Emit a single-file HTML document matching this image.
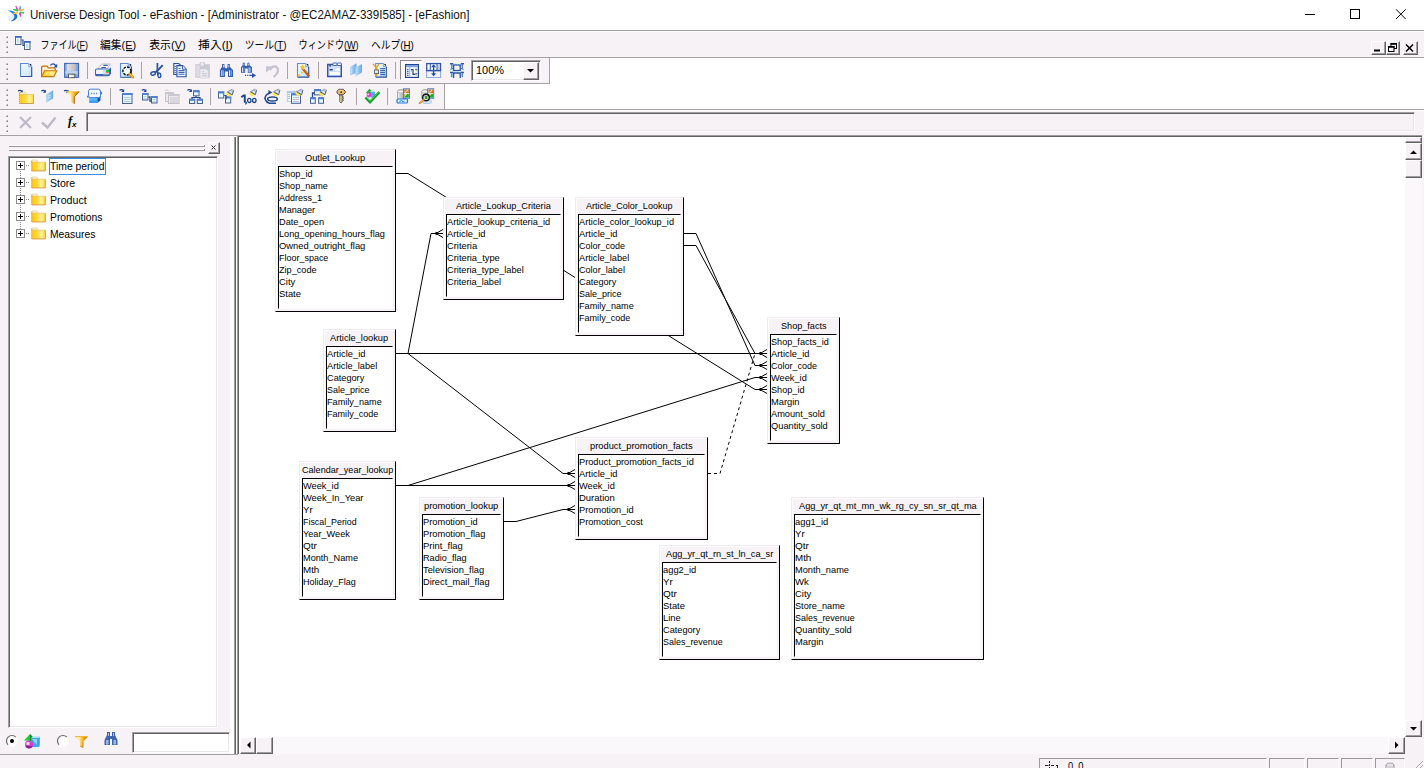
<!DOCTYPE html>
<html><head><meta charset="utf-8"><title>Universe Design Tool</title><style>
*{margin:0;padding:0;box-sizing:border-box}
html,body{width:1424px;height:768px;overflow:hidden;background:#fff}
body{position:relative;font-family:"Liberation Sans",sans-serif;color:#000}
.a{position:absolute}
.t{position:absolute;white-space:pre;transform-origin:0 0;line-height:1}
.tb{position:absolute;background:#f6f2f6;border-left:1px solid #f0ebf0;border-top:1px solid #f0ebf0;border-right:1px solid #000;border-bottom:1px solid #000;box-shadow:inset 1px 1px 0 #fff}
.ti{position:absolute;background:#fff;border-left:1px solid #000;border-top:1px solid #000;border-right:1px solid #fbf9fb;border-bottom:1px solid #fbf9fb}
.btn{position:absolute;background:#f6f2f6;border-left:1px solid #fff;border-top:1px solid #fff;border-right:1px solid #626262;border-bottom:1px solid #626262;box-shadow:inset -1px -1px 0 #a19ea1}
.sunk{position:absolute;border-left:1px solid #a09ea0;border-top:1px solid #a09ea0;border-right:1px solid #fff;border-bottom:1px solid #fff;box-shadow:inset 1px 1px 0 #626462,inset -1px -1px 0 #e9e5e9}
.dith{position:absolute;background:#faf8fa}
svg{position:absolute;overflow:visible}
</style></head><body>
<div class="a" style="left:0px;top:0px;width:1424px;height:30px;background:#fff;"></div>
<div class="t" style="left:29.50px;top:9.00px;font-size:12px;transform:scale(0.9663,1);color:#111;">Universe Design Tool - eFashion - [Administrator - @EC2AMAZ-339I585] - [eFashion]</div>
<svg style="left:0;top:0" width="1424" height="30" viewBox="0 0 1424 30"><g stroke="#000" stroke-width="1" fill="none"><path d="M1305 14.5h10"/><rect x="1350.500" y="9.500" width="9" height="9"/><path d="M1396 9.300l9.700 9.700M1405.700 9.300l-9.700 9.700"/></g></svg>
<div class="a" style="left:0px;top:30px;width:1424px;height:28px;background:#f6f2f6;"></div>
<div class="a" style="left:0px;top:30px;width:1424px;height:1px;background:#a5a2a5;"></div>
<div class="a" style="left:0px;top:31px;width:1424px;height:1px;background:#fdfcfd;"></div>
<div class="a" style="left:0px;top:57px;width:1424px;height:1px;background:#a5a2a5;"></div>
<div class="a" style="left:0px;top:58px;width:550px;height:26px;background:#f6f2f6;"></div>
<div class="a" style="left:549px;top:58px;width:1px;height:26px;background:#a5a2a5;"></div>
<div class="a" style="left:0px;top:83px;width:550px;height:1px;background:#a5a2a5;"></div>
<div class="a" style="left:0px;top:84px;width:445px;height:26px;background:#f6f2f6;"></div>
<div class="a" style="left:444px;top:84px;width:1px;height:26px;background:#a5a2a5;"></div>
<div class="a" style="left:0px;top:109px;width:1424px;height:1px;background:#a5a2a5;"></div>
<div class="a" style="left:0px;top:110px;width:1424px;height:25px;background:#f6f2f6;"></div>
<div class="a" style="left:0px;top:110px;width:1424px;height:1px;background:#fff;"></div>
<div class="a" style="left:0px;top:135px;width:1424px;height:633px;background:#f6f2f6;"></div>
<div class="a" style="left:0px;top:135px;width:238px;height:1px;background:#a5a2a5;"></div>
<svg style="left:0;top:0" width="12" height="140"><rect x="6" y="36" width="1" height="1" fill="#dcd9dc"/><rect x="7" y="36" width="1" height="1" fill="#b4b1b4"/><rect x="6" y="37" width="1" height="1" fill="#b4b1b4"/><rect x="7" y="37" width="1" height="1" fill="#868386"/><rect x="6" y="41" width="1" height="1" fill="#dcd9dc"/><rect x="7" y="41" width="1" height="1" fill="#b4b1b4"/><rect x="6" y="42" width="1" height="1" fill="#b4b1b4"/><rect x="7" y="42" width="1" height="1" fill="#868386"/><rect x="6" y="46" width="1" height="1" fill="#dcd9dc"/><rect x="7" y="46" width="1" height="1" fill="#b4b1b4"/><rect x="6" y="47" width="1" height="1" fill="#b4b1b4"/><rect x="7" y="47" width="1" height="1" fill="#868386"/><rect x="6" y="51" width="1" height="1" fill="#dcd9dc"/><rect x="7" y="51" width="1" height="1" fill="#b4b1b4"/><rect x="6" y="52" width="1" height="1" fill="#b4b1b4"/><rect x="7" y="52" width="1" height="1" fill="#868386"/></svg>
<svg style="left:0;top:0" width="12" height="140"><rect x="6" y="63" width="1" height="1" fill="#dcd9dc"/><rect x="7" y="63" width="1" height="1" fill="#b4b1b4"/><rect x="6" y="64" width="1" height="1" fill="#b4b1b4"/><rect x="7" y="64" width="1" height="1" fill="#868386"/><rect x="6" y="68" width="1" height="1" fill="#dcd9dc"/><rect x="7" y="68" width="1" height="1" fill="#b4b1b4"/><rect x="6" y="69" width="1" height="1" fill="#b4b1b4"/><rect x="7" y="69" width="1" height="1" fill="#868386"/><rect x="6" y="73" width="1" height="1" fill="#dcd9dc"/><rect x="7" y="73" width="1" height="1" fill="#b4b1b4"/><rect x="6" y="74" width="1" height="1" fill="#b4b1b4"/><rect x="7" y="74" width="1" height="1" fill="#868386"/><rect x="6" y="78" width="1" height="1" fill="#dcd9dc"/><rect x="7" y="78" width="1" height="1" fill="#b4b1b4"/><rect x="6" y="79" width="1" height="1" fill="#b4b1b4"/><rect x="7" y="79" width="1" height="1" fill="#868386"/></svg>
<svg style="left:0;top:0" width="12" height="140"><rect x="6" y="89" width="1" height="1" fill="#dcd9dc"/><rect x="7" y="89" width="1" height="1" fill="#b4b1b4"/><rect x="6" y="90" width="1" height="1" fill="#b4b1b4"/><rect x="7" y="90" width="1" height="1" fill="#868386"/><rect x="6" y="94" width="1" height="1" fill="#dcd9dc"/><rect x="7" y="94" width="1" height="1" fill="#b4b1b4"/><rect x="6" y="95" width="1" height="1" fill="#b4b1b4"/><rect x="7" y="95" width="1" height="1" fill="#868386"/><rect x="6" y="99" width="1" height="1" fill="#dcd9dc"/><rect x="7" y="99" width="1" height="1" fill="#b4b1b4"/><rect x="6" y="100" width="1" height="1" fill="#b4b1b4"/><rect x="7" y="100" width="1" height="1" fill="#868386"/><rect x="6" y="104" width="1" height="1" fill="#dcd9dc"/><rect x="7" y="104" width="1" height="1" fill="#b4b1b4"/><rect x="6" y="105" width="1" height="1" fill="#b4b1b4"/><rect x="7" y="105" width="1" height="1" fill="#868386"/></svg>
<svg style="left:0;top:0" width="12" height="140"><rect x="6" y="115" width="1" height="1" fill="#dcd9dc"/><rect x="7" y="115" width="1" height="1" fill="#b4b1b4"/><rect x="6" y="116" width="1" height="1" fill="#b4b1b4"/><rect x="7" y="116" width="1" height="1" fill="#868386"/><rect x="6" y="120" width="1" height="1" fill="#dcd9dc"/><rect x="7" y="120" width="1" height="1" fill="#b4b1b4"/><rect x="6" y="121" width="1" height="1" fill="#b4b1b4"/><rect x="7" y="121" width="1" height="1" fill="#868386"/><rect x="6" y="125" width="1" height="1" fill="#dcd9dc"/><rect x="7" y="125" width="1" height="1" fill="#b4b1b4"/><rect x="6" y="126" width="1" height="1" fill="#b4b1b4"/><rect x="7" y="126" width="1" height="1" fill="#868386"/><rect x="6" y="130" width="1" height="1" fill="#dcd9dc"/><rect x="7" y="130" width="1" height="1" fill="#b4b1b4"/><rect x="6" y="131" width="1" height="1" fill="#b4b1b4"/><rect x="7" y="131" width="1" height="1" fill="#868386"/></svg>
<svg style="left:0;top:0.4px" width="430" height="58" fill="#000" stroke="#000" stroke-width=".3" font-family="&quot;Liberation Sans&quot;, &quot;Noto Sans CJK JP&quot;, sans-serif" font-size="11"><g transform="translate(40.1,49)"><text x="0.5" y="0" stroke="none" fill="#000" textLength="47.500" lengthAdjust="spacingAndGlyphs">ファイル(F)</text><rect x="38.900" y="1" width="6.200" height="1"/></g><g transform="translate(99.5,49)"><text x="0.5" y="0" stroke="none" fill="#000" textLength="36" lengthAdjust="spacingAndGlyphs">編集(E)</text><rect x="26.800" y="1" width="6.800" height="1"/></g><g transform="translate(148.7,49)"><text x="0.5" y="0" stroke="none" fill="#000" textLength="36.400" lengthAdjust="spacingAndGlyphs">表示(V)</text><rect x="26.700" y="1" width="7.300" height="1"/></g><g transform="translate(197.6,49)"><text x="0.5" y="0" stroke="none" fill="#000" textLength="34.700" lengthAdjust="spacingAndGlyphs">挿入(I)</text><rect x="28.500" y="1" width="3.500" height="1"/></g><g transform="translate(244.2,49)"><text x="0.5" y="0" stroke="none" fill="#000" textLength="41.800" lengthAdjust="spacingAndGlyphs">ツール(T)</text><rect x="33.100" y="1" width="6.400" height="1"/></g><g transform="translate(298.1,49)"><text x="0.5" y="0" stroke="none" fill="#000" textLength="60" lengthAdjust="spacingAndGlyphs">ウィンドウ(W)</text><rect x="47.300" y="1" width="10.400" height="1"/></g><g transform="translate(370.4,49)"><text x="0.5" y="0" stroke="none" fill="#000" textLength="42.800" lengthAdjust="spacingAndGlyphs">ヘルプ(H)</text><rect x="32.900" y="1" width="7.700" height="1"/></g></svg>
<div class="btn" style="left:1371px;top:41px;width:14.5px;height:14px;"></div>
<div class="btn" style="left:1385.5px;top:41px;width:14.5px;height:14px;"></div>
<div class="btn" style="left:1403px;top:41px;width:14.5px;height:14px;"></div>
<svg style="left:0;top:3px" width="1424" height="58"><g fill="none" stroke="#000" stroke-width="1"><path d="M1374 47.500h6" stroke-width="2"/><rect x="1391" y="40.500" width="5.500" height="5" /><path d="M1390.500 41h6.500" stroke-width="1.600"/><rect x="1388.500" y="43.500" width="5.500" height="5" fill="#f6f2f6"/><path d="M1388 44h6.500" stroke-width="1.600"/><path d="M1406 41.500l7 7M1413 41.500l-7 7" stroke-width="1.500"/></g></svg>
<div class="sunk" style="left:86px;top:112px;width:1329px;height:20px;background:#f6f2f6"></div>
<div class="a" style="left:230px;top:136px;width:8px;height:618px;background:#fff;"></div>
<div class="a" style="left:234px;top:137px;width:1px;height:617px;background:#a09ea0;"></div>
<div class="a" style="left:235px;top:137px;width:1px;height:617px;background:#606260;"></div>
<div class="a" style="left:237px;top:135px;width:1185px;height:619px;background:#fff;"></div>
<div class="a" style="left:237px;top:135px;width:1185px;height:1px;background:#a09ea0;"></div>
<div class="a" style="left:237px;top:135px;width:1px;height:619px;background:#a09ea0;"></div>
<div class="a" style="left:238px;top:136px;width:1184px;height:1px;background:#606260;"></div>
<div class="a" style="left:238px;top:136px;width:1px;height:618px;background:#606260;"></div>
<div class="dith" style="left:1405px;top:137px;width:17px;height:599px;"></div>
<div class="btn" style="left:1405px;top:137px;width:17px;height:6px;"></div>
<div class="btn" style="left:1405px;top:143px;width:17px;height:17px;"></div>
<div class="btn" style="left:1405px;top:160px;width:17px;height:18px;"></div>
<div class="btn" style="left:1405px;top:720px;width:17px;height:17px;"></div>
<div class="dith" style="left:240px;top:737px;width:1165px;height:17px;"></div>
<div class="btn" style="left:240px;top:737px;width:16px;height:17px;"></div>
<div class="btn" style="left:256px;top:737px;width:17px;height:17px;"></div>
<div class="btn" style="left:1388px;top:737px;width:17px;height:17px;"></div>
<div class="a" style="left:1405px;top:737px;width:17px;height:17px;background:#f6f2f6;"></div>
<svg style="left:0;top:0" width="1424" height="768"><path d="M1410 154l3.500-3.500l3.500 3.500zM1410 727l3.500 3.500l3.500-3.500zM1395 741.500l3.500 3.500l-3.500 3.500zM250.500 741.500l-3.500 3.500l3.500 3.500z" fill="#000"/></svg>
<div class="a" style="left:0px;top:754px;width:1424px;height:14px;background:#f6f2f6;"></div>
<div class="a" style="left:1039px;top:758px;width:228px;height:12px;border-left:1px solid #9c999c;border-top:1px solid #9c999c;border-right:1px solid #fff"></div>
<div class="a" style="left:1269px;top:758px;width:36px;height:12px;border-left:1px solid #9c999c;border-top:1px solid #9c999c;border-right:1px solid #fff"></div>
<div class="a" style="left:1307px;top:758px;width:32px;height:12px;border-left:1px solid #9c999c;border-top:1px solid #9c999c;border-right:1px solid #fff"></div>
<div class="a" style="left:1341px;top:758px;width:32px;height:12px;border-left:1px solid #9c999c;border-top:1px solid #9c999c;border-right:1px solid #fff"></div>
<div class="a" style="left:1375px;top:758px;width:30px;height:12px;border-left:1px solid #9c999c;border-top:1px solid #9c999c;border-right:1px solid #fff"></div>
<svg style="left:7px;top:5px" width="18" height="17" viewBox="0 0 18 17"><ellipse cx="5.500" cy="13" rx="5" ry="3.500" fill="#e6f2fb"/><ellipse cx="12" cy="13.500" rx="3.500" ry="2.800" fill="#eef6fc"/><path d="M.8 5.600q3.500-.5 6.200 1.200 3.500 2.200 3.300 5.200-.5 3-5.800 3.800 3-2 2.800-4.400Q7 8.500 .8 5.600z" fill="#2a7fe0"/><path d="M4.500 15.800q4-.8 4.800-3.500.3-1.800-.8-3.300" fill="none" stroke="#1f5fc0" stroke-width="1"/><g transform="translate(11.800,6.500)"><path d="M-.6-1.200L-2.800-5.200-1.800-1.400z" fill="#e23ad0" stroke="#e23ad0" stroke-width="1"/><path d="M.5-1.500L1.600-5.200 1.500-1.200z" fill="#5b8fe0" stroke="#5b8fe0" stroke-width=".9"/><path d="M-1.500-.6L-5.500-2-1.500-1.500z" fill="#25d43a" stroke="#25d43a" stroke-width="1.100"/><path d="M1.500-.8L5.200-2.300 1.500-1.600z" fill="#ffb51f" stroke="#ffb51f" stroke-width="1.100"/><path d="M-1.500.8L-5.500 2.300-1.500 1.500z" fill="#ffc21f" stroke="#ffc21f" stroke-width="1.100"/><path d="M1.500.6L5.200 1.600 1.500 1.400z" fill="#25d43a" stroke="#25d43a" stroke-width="1"/><path d="M.5 1.500L1.800 5 1.400 1.300z" fill="#e23ad0" stroke="#e23ad0" stroke-width="1"/></g></svg>
<svg style="left:14px;top:35px" width="18" height="16" viewBox="0 0 18 16"><rect x="1.500" y="1.500" width="5.500" height="8" fill="#e8fafd" stroke="#44557a" stroke-width=".9"/><rect x="1" y="1" width="6.500" height="1.800" fill="#3f66c0"/><path d="M3 5h2.500M3 7h2.500" stroke="#a9bcc9" stroke-width=".8"/><rect x="10.500" y="6.500" width="5.500" height="8" fill="#e8fafd" stroke="#44557a" stroke-width=".9"/><rect x="10" y="6" width="6.500" height="1.800" fill="#3f66c0"/><path d="M12 10h2.500M12 12h2.500" stroke="#a9bcc9" stroke-width=".8"/><path d="M7.500 5h1.500v5.500h1.500" fill="none" stroke="#27477f" stroke-width="1.100"/></svg>
<svg style="left:0;top:754px" width="1424" height="14"><g stroke="#222" stroke-width="1" fill="none"><path d="M1049.500 7v7" stroke-dasharray="2 1"/><path d="M1045 11.500h3.500M1051 11.500h3M1056 11.500h2M1057.500 12v2"/></g><ellipse cx="1390" cy="11" rx="4" ry="2" fill="#e4e2e6" stroke="#9a989c" stroke-width=".8"/><path d="M1386 11v3M1394 11v3" stroke="#9a989c"/><rect x="1387" y="12" width="6" height="2" fill="#d4d2d8"/><path d="M1423 7l-7 7M1423 11l-3 3" stroke="#a9a6a9" stroke-width="1"/></svg>
<div class="t" style="left:1068.00px;top:760.50px;font-size:11px;transform:scale(0.8443,1);">0, 0</div>
<svg style="left:0;top:0" width="0" height="0"><defs><linearGradient id="gPage" x1="0" y1="0" x2="1" y2="1"><stop offset="0" stop-color="#f6fcff"/><stop offset=".5" stop-color="#dcf0fc"/><stop offset="1" stop-color="#bfe0f8"/></linearGradient><linearGradient id="gFold" x1="0" y1="0" x2="1" y2="0"><stop offset="0" stop-color="#ffc90f"/><stop offset=".4" stop-color="#ffd835"/><stop offset=".7" stop-color="#fff0a0"/><stop offset="1" stop-color="#ffd93a"/></linearGradient><linearGradient id="gFun" x1="0" x2="1"><stop offset="0" stop-color="#ffd84a"/><stop offset=".3" stop-color="#fff1b0"/><stop offset=".6" stop-color="#f9b51c"/><stop offset="1" stop-color="#b5650a"/></linearGradient><linearGradient id="gBlue" x1="0" y1="0" x2="0" y2="1"><stop offset="0" stop-color="#b9d3f3"/><stop offset="1" stop-color="#7ea6e0"/></linearGradient><linearGradient id="gPara" x1="0" x2="1"><stop offset="0" stop-color="#b8dcf8"/><stop offset="1" stop-color="#69a9e6"/></linearGradient><linearGradient id="gGrey" x1="0" x2="1"><stop offset="0" stop-color="#f4f4f4"/><stop offset="1" stop-color="#9c9c9c"/></linearGradient><linearGradient id="gKey" x1="0" x2="1"><stop offset="0" stop-color="#f7d56a"/><stop offset="1" stop-color="#c98a1a"/></linearGradient></defs></svg>
<svg style="left:18px;top:62px" width="16" height="16" viewBox="0 0 16 16"><path d="M2 1H10.8L14.2 4.4V15H2z" fill="url(#gPage)"/><path d="M13.7 4.4V14.5H2.5" fill="none" stroke="#2c4f9e" stroke-width="1.1"/><path d="M2.5 14.5V1.5H10.8" fill="none" stroke="#5f8ad6" stroke-width="1.1"/><path d="M10.8 1.3v3.4h3.1" fill="#f4faff" stroke="#5f8ad6" stroke-width=".8"/><path d="M11.9 2.1l1.4 1.4" stroke="#0a0a14" stroke-width="1.100"/></svg>
<svg style="left:41px;top:62px" width="16" height="16" viewBox="0 0 16 16"><path d="M.6 14.300V5.500q0-1.300 1.300-1.300h3.600q.9 0 1.400 1l.4.700h5.700q1.200 0 1.200 1.200v1.600" fill="#fdf0d0" stroke="#c46d0c" stroke-width="1.200"/><path d="M.7 14.600L3.600 8.800h12.200L12.800 14.600z" fill="url(#gFold)" stroke="#c8780f" stroke-width="1.100"/><path d="M4.500 13.500l2.600-4.200" stroke="#fff6c8" stroke-width="1"/><path d="M9.300 3.400q3-3.200 5.600.4" fill="none" stroke="#1f4fa8" stroke-width="1.300"/><path d="M16.200 1.800v3.600h-3.600z" fill="#1f4fa8"/></svg>
<svg style="left:64px;top:62px" width="16" height="16" viewBox="0 0 16 16"><rect x=".7" y="1.500" width="13.800" height="13.800" fill="#9dbae6" stroke="#3f66b8" stroke-width="1.200"/><path d="M12 2v13h2V2z" fill="#86a6dc"/><rect x="3.200" y="1.900" width="8.300" height="6.800" fill="url(#gGrey)"/><rect x="3.200" y="1.900" width="8.300" height="6.800" fill="#d4d4da" fill-opacity=".6"/><rect x="1.500" y="9.200" width="12" height="2.600" fill="#c2d7f2"/><rect x="4.400" y="12.200" width="6.500" height="3.500" fill="#e4e4e8" stroke="#55565c" stroke-width="1"/><rect x="5" y="12.800" width="2.400" height="2.500" fill="#fff"/></svg>
<div class="a" style="left:87px;top:62px;width:1px;height:17px;background:#a7a4a7;"></div>
<svg style="left:95px;top:62px" width="16" height="16" viewBox="0 0 16 16"><path d="M3 6.700L6.700 2h9L12 6.700z" fill="#fbfcfe" stroke="#a9adb8" stroke-width=".8"/><path d="M8.300 3.400h4.500M6.400 5.500h4.500" stroke="#3f66b8" stroke-width="1.200"/><path d="M14 7l2-1.500v6.300l-2 2.200z" fill="#2f5cb8"/><rect x=".5" y="7" width="13.600" height="6.800" rx="1.200" fill="#f1f5fb" stroke="#3f66b8" stroke-width="1.100"/><path d="M1 12.800h13" stroke="#2c4f9e" stroke-width="1.400"/><path d="M8 7.600h6v5h-6z" fill="#c9daf3" fill-opacity=".8"/><rect x="10.900" y="8" width="3.100" height="2" fill="#1fc03f"/><rect x="11.200" y="10" width="2.200" height="1.100" fill="#d9741c"/></svg>
<svg style="left:118px;top:62px" width="16" height="16" viewBox="0 0 16 16"><path d="M2 1H10.6L14 4.4V15.800H2z" fill="url(#gPage)"/><path d="M13.5 4.4V15.300H2.500" fill="none" stroke="#2c4f9e" stroke-width="1.1"/><path d="M2.500 15.300V1.500H10.6" fill="none" stroke="#5f8ad6" stroke-width="1.1"/><path d="M10.6 1.3v3.4h3.100" fill="#f4faff" stroke="#5f8ad6" stroke-width=".8"/><path d="M11.700 2.100l1.400 1.400" stroke="#0a0a14" stroke-width="1.100"/><path d="M9 2h3v13H9z" fill="#8fb8ec" fill-opacity=".5"/><circle cx="8.900" cy="9" r="4" fill="#f4fbff" stroke="#0c0c10" stroke-width="1.400" stroke-dasharray="2.600 1.100"/><path d="M11.800 12.300l3 2.700" stroke="#e39a14" stroke-width="3" stroke-linecap="round"/><path d="M12.300 12.300l2.600 2.400" stroke="#ffd24a" stroke-width="1" stroke-linecap="round"/></svg>
<div class="a" style="left:141px;top:62px;width:1px;height:17px;background:#a7a4a7;"></div>
<svg style="left:148px;top:62px" width="16" height="16" viewBox="0 0 16 16"><g fill="none" stroke="#2a55a8"><path d="M9.400 1v9.500q.2 1.500 1.300 2.300" stroke-width="1.700"/><path d="M14.700 3.100Q11 7.500 6.800 10.800" stroke-width="1.800"/><ellipse cx="5.100" cy="11.500" rx="2.300" ry="1.600" transform="rotate(-22 5.100 11.500)" stroke-width="1.400"/><ellipse cx="11.300" cy="13.300" rx="1.500" ry="2.300" transform="rotate(-8 11.300 13.300)" stroke-width="1.400"/></g></svg>
<svg style="left:172px;top:62px" width="16" height="16" viewBox="0 0 16 16"><path d="M1.800 1.500h5l2 2v9h-7z" fill="#e4f3fd" stroke="#2a4f9f" stroke-width="1.100"/><path d="M2.600 4.500h1.200M2.600 6.500h1.200M2.600 8.500h1.200M2.600 10.500h1.200" stroke="#2a4f9f" stroke-width=".9"/><path d="M4.900 3.600h5.800l3.400 3.400v7.700H4.900z" fill="#eaf6fe" stroke="#2a4f9f" stroke-width="1.100"/><path d="M10.500 3.600v3.600h3.600" fill="#fff" stroke="#2a4f9f" stroke-width=".9"/><path d="M6.500 6.500h2M6.500 8.500h6M6.500 10.400h6M6.500 12.300h6" stroke="#3f66b8" stroke-width="1.100"/></svg>
<svg style="left:195px;top:62px" width="16" height="16" viewBox="0 0 16 16"><rect x=".3" y="2.200" width="14.600" height="13.600" fill="#cbc9d3"/><rect x="1.300" y="3.500" width="3.500" height="11.300" fill="#dedde4"/><path d="M5 .8h4.500v3.800H5z" fill="#e4e3e9" stroke="#c3c1cc" stroke-width=".8"/><rect x="6.300" y="1.200" width="2" height="1.600" fill="#f5f1f5"/><path d="M5 7h6.300l2 2v7H5z" fill="#ececf0" stroke="#cbc9d3" stroke-width=".6"/><path d="M7 9.800h2M7 11.800h5M7 13.800h5" stroke="#c2c0ca" stroke-width="1.100"/></svg>
<svg style="left:218px;top:62px" width="16" height="16" viewBox="0 0 16 16"><path d="M4 2.300q1.300-.8 2.500 0V5l.7 1.300h1.600L9.500 5V2.300q1.300-.8 2.500 0V5l3 3V15h-5V9.500H6.900V15h-5V8L4 5z" fill="#335fb3"/><path d="M3.200 8.200h1.200V14H3.200zM11 8.200h1.200V14H11zM5 3h.8v2.500H5zM10.400 3h.8v2.500h-.8z" fill="#dfe9fa"/><path d="M5 8.200h1V14H5zM12.800 8.200h1V14h-1z" fill="#86a5de"/></svg>
<svg style="left:240px;top:62px" width="16" height="16" viewBox="0 0 16 16"><g transform="translate(-.6,-.9) scale(.84,.78)"><path d="M4 2.300q1.300-.8 2.500 0V5l.7 1.300h1.600L9.500 5V2.300q1.300-.8 2.500 0V5l3 3V15h-5V9.500H6.900V15h-5V8L4 5z" fill="#335fb3"/><path d="M3.200 8.200h1.200V14H3.200zM11 8.200h1.200V14H11zM5 3h.8v2.500H5zM10.400 3h.8v2.500h-.8z" fill="#dfe9fa"/><path d="M5 8.200h1V14H5zM12.800 8.200h1V14h-1z" fill="#86a5de"/></g><path d="M5 13.400h1.200M7.200 13.400h1.200M9.400 13.400h4" stroke="#2a55a8" stroke-width="1.300"/><path d="M12 10.900l4.200 2.500-4.200 2.500z" fill="#2a55a8"/></svg>
<svg style="left:264px;top:62px" width="16" height="16" viewBox="0 0 16 16"><path d="M6 8Q8.500 3.600 11.800 4.600 14.800 6.200 13.600 10.200 12.600 13 9.600 15" fill="none" stroke="#c6c4d0" stroke-width="2.300"/><path d="M2 4.300h6.700L2 10.800z" fill="#c6c4d0"/></svg>
<div class="a" style="left:287px;top:62px;width:1px;height:17px;background:#a7a4a7;"></div>
<svg style="left:295px;top:62px" width="16" height="16" viewBox="0 0 16 16"><path d="M2 1H10.8L14.2 4.4V15.600H2z" fill="url(#gPage)"/><path d="M13.7 4.4V15.100H2.5" fill="none" stroke="#2c4f9e" stroke-width="1.1"/><path d="M2.5 15.100V1.5H10.8" fill="none" stroke="#5f8ad6" stroke-width="1.1"/><path d="M10.8 1.3v3.4h3.1" fill="#f4faff" stroke="#5f8ad6" stroke-width=".8"/><path d="M11.9 2.1l1.4 1.4" stroke="#0a0a14" stroke-width="1.100"/><path d="M8.200 7.200l5.300 6.300" stroke="#b9560f" stroke-width="2.300" stroke-linecap="round"/><path d="M8.300 7l5 6" stroke="#f0a04a" stroke-width=".8" stroke-dasharray="1 1"/><path d="M7.500 2.200l.9 2 2 .4-1.500 1.400.4 2.100-1.800-1.100-1.800 1.100.4-2.100-1.500-1.400 2-.4zM4 11.500l.6 1.200 1.200.6-1.200.6-.6 1.200-.6-1.200-1.200-.6 1.200-.6zM7 9l.5 1 1 .5-1 .5-.5 1-.5-1-1-.5 1-.5z" fill="#f8c414"/></svg>
<div class="a" style="left:318px;top:62px;width:1px;height:17px;background:#a7a4a7;"></div>
<svg style="left:326px;top:62px" width="16" height="16" viewBox="0 0 16 16"><path d="M1.700 2.500h13.600v12H1.700z" fill="#cfe0f5" stroke="#2f55a8" stroke-width="1.400"/><rect x="7" y="1" width="4" height="2.500" rx=".6" fill="#fff" stroke="#2f55a8" stroke-width=".9"/><rect x="11.300" y="1" width="4" height="2.500" rx=".6" fill="#fff" stroke="#2f55a8" stroke-width=".9"/><rect x="3.300" y="3.200" width="1.800" height="1.300" fill="#27477f"/><rect x="3.500" y="7" width="3.200" height="1.400" fill="#27477f"/><rect x="9.500" y="6.500" width="4.500" height="2" fill="#fff"/><rect x="3.800" y="10" width="9.800" height="3" fill="#fff"/></svg>
<svg style="left:349px;top:62px" width="16" height="16" viewBox="0 0 16 16"><path d="M1 5L7.500 1.200V11L1 13.500z" fill="url(#gPara)"/><path d="M6.500 5.500L13 1.900v8.600L6.500 14.500z" fill="url(#gPara)"/><path d="M2 6.500l1.200-.5M2 8.500l1.200-.5M2 10.500l1.200-.5M7.500 7l1.200-.5M7.500 9l1.200-.5M7.500 11l1.200-.5" stroke="#e4f2fd" stroke-width=".7"/></svg>
<svg style="left:372px;top:62px" width="16" height="16" viewBox="0 0 16 16"><path d="M3.200 1H11.400L14.800 4.4V15.600H3.200z" fill="url(#gPage)"/><path d="M14.300 4.4V15.100H3.700" fill="none" stroke="#2c4f9e" stroke-width="1.1"/><path d="M3.700 15.100V1.5H11.400" fill="none" stroke="#5f8ad6" stroke-width="1.1"/><path d="M11.400 1.3v3.4h3.100" fill="#f4faff" stroke="#5f8ad6" stroke-width=".8"/><path d="M12.500 2.100l1.400 1.400" stroke="#0a0a14" stroke-width="1.100"/><path d="M8.200 6.600h4.800M8.200 8.600h4.800M8.200 10.600h4.800M8.200 12.600h4.800" stroke="#3f66b8" stroke-width="1.100"/><path d="M1 1.800L3.800 5.300V14M7 1.800L4.800 5.300V14" fill="none" stroke="#e8a21c" stroke-width="1.300"/><rect x="2.400" y="8" width="4.200" height="3.600" fill="#d9dae0" stroke="#60626c" stroke-width=".9"/><rect x="3.300" y="8.800" width="1.500" height="1.500" fill="#fff"/></svg>
<div class="a" style="left:395px;top:62px;width:1px;height:17px;background:#a7a4a7;"></div>
<div class="a" style="left:400px;top:60px;width:22px;height:20px;background:#fbf9fb;border-left:1px solid #8d8a8d;border-top:1px solid #8d8a8d;border-right:1px solid #fff;border-bottom:1px solid #fff"></div>
<svg style="left:404px;top:62px" width="16" height="16" viewBox="0 0 16 16"><rect x="1.600" y="2.600" width="12.800" height="12.800" fill="#fff" stroke="#1f478f" stroke-width="1.200"/><rect x="2.200" y="3.200" width="11.600" height="2" fill="#4f86d6"/><path d="M2.500 4.200h11" stroke="#e4f0fd" stroke-width=".8" stroke-dasharray="1 1"/><rect x="2.200" y="5.200" width="3.300" height="9.600" fill="#dbe8f8"/><path d="M5.800 5.200v9.600" stroke="#6a8fcf" stroke-width=".7"/><path d="M3 7.600h1.400M3 9.600h1.400M3 11.600h1.400M3 13.600h1.400" stroke="#2a55a8" stroke-width="1"/><path d="M7 7.600h2v4.700h2.600" fill="none" stroke="#1f3f7f" stroke-width="1.200"/><rect x="6.800" y="8.200" width="1.500" height="1.500" fill="#b5b9c4"/><rect x="11.300" y="7" width="2" height="2.300" fill="#b5b9c4"/><rect x="11.300" y="11.600" width="2" height="2" fill="#b5b9c4"/><path d="M11.200 7.200h2.200M11.200 11.500h2.200" stroke="#2a55a8" stroke-width=".8"/></svg>
<svg style="left:426px;top:62px" width="16" height="16" viewBox="0 0 16 16"><rect x=".6" y="8.500" width="14" height="7" fill="#f5f1f5" stroke="#8fa9dc" stroke-width="1"/><rect x=".7" y="1.600" width="13.800" height="7" fill="#fff" stroke="#2a55a8" stroke-width="1.300"/><rect x="11.400" y="2.200" width="2.600" height="5.800" fill="#c9c9cf"/><path d="M4.300 2v6.500M11 2v6.500" stroke="#2a55a8" stroke-width="1"/><path d="M7.600 3v10.500" stroke="#27509f" stroke-width="1.400"/><path d="M5 5.200L7.600 2.200l2.600 3zM5 11.300l2.600 3 2.600-3z" fill="#27509f"/><path d="M.6 8.500h14" stroke="#2a55a8" stroke-width="1.200"/></svg>
<svg style="left:449px;top:62px" width="16" height="16" viewBox="0 0 16 16"><rect x="1" y="1" width="14" height="15" fill="#def6fb"/><rect x="4.600" y="3" width="6.600" height="5.500" fill="#f5f1f5" stroke="#2a55a8" stroke-width="1.300"/><path d="M4.600 16v-5h6.600v5" fill="#f5f1f5" stroke="#2a55a8" stroke-width="1.300"/><g stroke="#2a55a8" fill="none"><path d="M1 1.800h3.200M11.800 1.800H15M1 10.500h3.200M11.800 10.500H15" stroke-width="1.600"/><path d="M2.600 2.500q.8 1.800 0 3.500M13.400 2.500q-.8 1.800 0 3.500M2.600 11.500q.8 1.800 0 3.500M13.400 11.500q-.8 1.800 0 3.500" stroke-width="1.100"/><path d="M1.500 7.300l2.500-.8M14.500 7.300l-2.500-.8" stroke-width="1"/></g></svg>
<div class="sunk" style="left:471px;top:60px;width:70px;height:21px;background:#fff"></div>
<div class="btn" style="left:523px;top:62px;width:16px;height:18px;"></div>
<svg style="left:523px;top:62px" width="16" height="18"><path d="M4 7h7L7.500 10.600z" fill="#000"/></svg>
<div class="t" style="left:475.50px;top:64.50px;font-size:11px;transform:scale(0.9950,1);">100%</div>
<svg style="left:18px;top:88px" width="16" height="16" viewBox="0 0 16 16"><path d="M0 3q2.200-1.400 4 .4" fill="none" stroke="#1f3f8f" stroke-width="1.1"/><path d="M4.600 1.800v3h-3z" fill="#1f3f8f"/><path d="M1.300 6.500V4.400h6l1 2.100z" fill="#fbf3c0" stroke="#d9c27a" stroke-width=".6"/><rect x="1.400" y="6.500" width="14.200" height="9" fill="url(#gFold)"/><path d="M15.500 6.500v9H1.300" fill="none" stroke="#c49a52" stroke-width=".9"/><path d="M1.400 5v10.500" stroke="#e8901c" stroke-width=".9" stroke-dasharray="1.200 .8"/><path d="M1.400 6.500h14" stroke="#e8c060" stroke-width=".7"/></svg>
<svg style="left:40px;top:88px" width="16" height="16" viewBox="0 0 16 16"><path d="M1.300 3q2.200-1.400 4 .4" fill="none" stroke="#1f3f8f" stroke-width="1.1"/><path d="M5.900 1.800v3h-3z" fill="#1f3f8f"/><path d="M6 6.500L13.100 2.200v8.300L6 14.700z" fill="url(#gPara)"/><path d="M8 8l3-1M8 10l3-1" stroke="#d9ecfb" stroke-width=".7"/></svg>
<svg style="left:63px;top:88px" width="16" height="16" viewBox="0 0 16 16"><path d="M1 3q2.200-1.400 4 .4" fill="none" stroke="#1f3f8f" stroke-width="1.1"/><path d="M5.600 1.800v3h-3z" fill="#1f3f8f"/><path d="M3.400 3.600h12.800l-4.900 5.200v7l-3.300-1.600V8.800z" fill="url(#gFun)"/><path d="M3.400 3.800h12.800" stroke="#f7c23a" stroke-width=".8"/><path d="M16.200 3.600l-4.900 5.200v7" fill="none" stroke="#a85a08" stroke-width=".9"/></svg>
<svg style="left:86px;top:88px" width="16" height="16" viewBox="0 0 16 16"><path d="M3.300 9.300h8v5.600h-8z" fill="#5fb8f5"/><path d="M3.300 9.300l3-2h8.200l-3.200 2z" fill="#a9dcfb"/><path d="M11.300 9.300l3.200-2.300v5.500l-3.200 2.400z" fill="#1f4fb0"/><path d="M3.300 12.500h8v2.400h-8z" fill="#3f9cec"/><path d="M2.500 3.200q0-2 2-2h8q2 0 2 2v4.400q0 2-2 2h-8q-2 0-2-2z" fill="#f7fbff" stroke="#3f7fdf" stroke-width="1"/><path d="M5 5.500h1.300M7.500 5.500h1.300M10 5.500h1.300" stroke="#5b96e6" stroke-width="1.600"/><path d="M2 7.500q-1.500 1.500.8 2.800M14.800 3.500q1.800 1.200.2 3" fill="none" stroke="#2f6fd0" stroke-width="1"/></svg>
<div class="a" style="left:110px;top:88px;width:1px;height:17px;background:#a7a4a7;"></div>
<svg style="left:118px;top:88px" width="16" height="16" viewBox="0 0 16 16"><path d="M1.500 2.200q2.200-1.400 4 .4" fill="none" stroke="#1f3f8f" stroke-width="1.1"/><path d="M6.100 1v3h-3z" fill="#1f3f8f"/><rect x="4.500" y="5.500" width="9.500" height="10" fill="#e4f9fd" stroke="#4a5f8f" stroke-width="1"/><rect x="4" y="5" width="10.500" height="2" fill="#4f7fd6"/><path d="M6 9.500h6.500M6 11.500h6.500M6 13.500h6.500" stroke="#b7c9d6"/></svg>
<svg style="left:141px;top:88px" width="16" height="16" viewBox="0 0 16 16"><path d="M0.800 2.200q2.200-1.400 4 .4" fill="none" stroke="#1f3f8f" stroke-width="1.1"/><path d="M5.400 1v3h-3z" fill="#1f3f8f"/><rect x="1.500" y="5.500" width="5.500" height="6.500" fill="#e4f9fd" stroke="#4a5f8f" stroke-width="1"/><rect x="1" y="5" width="6.500" height="2" fill="#4f7fd6"/><rect x="10.500" y="8.500" width="5.500" height="6.500" fill="#e4f9fd" stroke="#4a5f8f" stroke-width="1"/><rect x="10" y="8" width="6.500" height="2" fill="#4f7fd6"/><path d="M7.500 9h1.500v4h1.500" fill="none" stroke="#27477f" stroke-width="1.300"/><path d="M2.500 8.500h3M2.500 10.500h3M11.500 11.500h3M11.500 13.500h3" stroke="#a9c3d3" stroke-width=".8"/></svg>
<svg style="left:164px;top:88px" width="16" height="16" viewBox="0 0 16 16"><path d="M1 2.500q2-1.200 3.400.2" fill="none" stroke="#cfcdd1"/><rect x="1.500" y="4.500" width="8" height="9" fill="#eceaee" stroke="#c2c0c8" stroke-width="1"/><rect x="1" y="4" width="9" height="2" fill="#c9c7cf"/><rect x="4.500" y="6.500" width="10.500" height="9" fill="#eceaee" stroke="#c2c0c8" stroke-width="1"/><rect x="4" y="6" width="11.500" height="2" fill="#c9c7cf"/><path d="M6 10h8M6 12h8M6 14h8" stroke="#c7c5c9"/></svg>
<svg style="left:187px;top:88px" width="16" height="16" viewBox="0 0 16 16"><path d="M0.300 2.200q2.200-1.400 4 .4" fill="none" stroke="#1f3f8f" stroke-width="1.1"/><path d="M4.900 1v3h-3z" fill="#1f3f8f"/><path d="M9 8v1.500M5 11V9.500h8V11" fill="none" stroke="#27477f" stroke-width="1.200"/><rect x="6.500" y="2.800" width="5.500" height="5" fill="#e4f9fd" stroke="#4a5f8f" stroke-width="1"/><rect x="6" y="2.300" width="6.500" height="2" fill="#4f7fd6"/><rect x="2.500" y="11.300" width="5.200" height="4.200" fill="#e4f9fd" stroke="#4a5f8f" stroke-width="1"/><rect x="2" y="10.800" width="6.200" height="2" fill="#4f7fd6"/><rect x="10.300" y="11.300" width="5.200" height="4.200" fill="#e4f9fd" stroke="#4a5f8f" stroke-width="1"/><rect x="9.800" y="10.800" width="6.200" height="2" fill="#4f7fd6"/></svg>
<div class="a" style="left:210px;top:88px;width:1px;height:17px;background:#a7a4a7;"></div>
<svg style="left:218px;top:88px" width="16" height="16" viewBox="0 0 16 16"><rect x="0.500" y="4" width="5.200" height="6" fill="#e4f9fd" stroke="#4a5f8f" stroke-width="1"/><rect x="0" y="3.500" width="6.200" height="2" fill="#4f7fd6"/><rect x="7.500" y="9" width="5.200" height="6" fill="#e4f9fd" stroke="#4a5f8f" stroke-width="1"/><rect x="7" y="8.500" width="6.200" height="2" fill="#4f7fd6"/><path d="M6.200 7.500h1.800v4" fill="none" stroke="#27477f" stroke-width="1.200"/><g transform="translate(7.5,0.5)"><path d="M1.800 3.400L.4 5.500 4 8.200 6.600 6.400z" fill="#ffe03a"/><path d="M1.200 4.600l4 2.800" stroke="#fff8c0" stroke-width=".7" stroke-dasharray="1 1"/><path d="M7.600 .8q.7.400.5 1.100L6.800 6.400 1.800 3.400 6.600.7q.5-.2 1 .1z" fill="#b9c6d8"/><path d="M4.300 2.800l2.800 2.400" stroke="#eef4fa" stroke-width="1.100"/><path d="M1.800 3.400l5 3L8.100 1.900" fill="none" stroke="#3f4f72" stroke-width=".9"/><path d="M1.800 3.400L6.600.7" fill="none" stroke="#7f8ca8" stroke-width=".8"/></g></svg>
<svg style="left:241px;top:88px" width="16" height="16" viewBox="0 0 16 16"><path d="M.3 9.300L2.600 7.500h1.200v7.300" fill="none" stroke="#1f478f" stroke-width="1.900"/><path d="M5.300 13.800v1.200l-.9 1.300" fill="none" stroke="#1f478f" stroke-width="1.300"/><ellipse cx="8.300" cy="12.400" rx="1.700" ry="2.100" fill="none" stroke="#1f478f" stroke-width="1.300"/><ellipse cx="13.300" cy="12.400" rx="1.700" ry="2.100" fill="none" stroke="#1f478f" stroke-width="1.300"/><g transform="translate(7.5,0.3)"><path d="M1.800 3.400L.4 5.500 4 8.200 6.600 6.400z" fill="#ffe03a"/><path d="M1.200 4.600l4 2.800" stroke="#fff8c0" stroke-width=".7" stroke-dasharray="1 1"/><path d="M7.600 .8q.7.400.5 1.100L6.800 6.400 1.800 3.400 6.600.7q.5-.2 1 .1z" fill="#b9c6d8"/><path d="M4.300 2.800l2.800 2.400" stroke="#eef4fa" stroke-width="1.100"/><path d="M1.800 3.400l5 3L8.100 1.900" fill="none" stroke="#3f4f72" stroke-width=".9"/><path d="M1.800 3.400L6.600.7" fill="none" stroke="#7f8ca8" stroke-width=".8"/></g></svg>
<svg style="left:264px;top:88px" width="16" height="16" viewBox="0 0 16 16"><g fill="none" stroke="#1f478f" stroke-width="1.500"><ellipse cx="8.500" cy="11" rx="4.800" ry="2"/><path d="M5.500 4.800Q0 7.500 1.300 11.500q1 3 4.200 3.800h6.500"/></g><path d="M4.500 2l3.800 2.500-4 2.300z" fill="#1f478f"/><g transform="translate(7.800,0.3)"><path d="M1.800 3.400L.4 5.500 4 8.200 6.600 6.400z" fill="#ffe03a"/><path d="M1.200 4.600l4 2.800" stroke="#fff8c0" stroke-width=".7" stroke-dasharray="1 1"/><path d="M7.600 .8q.7.400.5 1.100L6.800 6.400 1.800 3.400 6.600.7q.5-.2 1 .1z" fill="#b9c6d8"/><path d="M4.300 2.800l2.800 2.400" stroke="#eef4fa" stroke-width="1.100"/><path d="M1.800 3.400l5 3L8.100 1.900" fill="none" stroke="#3f4f72" stroke-width=".9"/><path d="M1.800 3.400L6.600.7" fill="none" stroke="#7f8ca8" stroke-width=".8"/></g></svg>
<svg style="left:287px;top:88px" width="16" height="16" viewBox="0 0 16 16"><rect x=".3" y="3.300" width="9" height="10.300" fill="#f4f9fe" stroke="#a9c3ea" stroke-width=".8"/><rect x=".3" y="3.300" width="9" height="1.800" fill="#a9c3ea"/><path d="M1 6.500h2M1 8.500h2M1 10.500h2" stroke="#8fb0e0" stroke-width=".8"/><rect x="4.500" y="5.900" width="9" height="9.400" fill="#e4f9fd" stroke="#4a5f8f" stroke-width="1"/><rect x="4" y="5.400" width="10" height="2" fill="#4f7fd6"/><path d="M6 9.500h6M6 11.500h6M6 13.500h6" stroke="#c9b7c9" stroke-width=".9"/><g transform="translate(7.800,0.3)"><path d="M1.800 3.400L.4 5.500 4 8.200 6.600 6.400z" fill="#ffe03a"/><path d="M1.200 4.600l4 2.800" stroke="#fff8c0" stroke-width=".7" stroke-dasharray="1 1"/><path d="M7.600 .8q.7.400.5 1.100L6.800 6.400 1.800 3.400 6.600.7q.5-.2 1 .1z" fill="#b9c6d8"/><path d="M4.300 2.800l2.800 2.400" stroke="#eef4fa" stroke-width="1.100"/><path d="M1.800 3.400l5 3L8.100 1.900" fill="none" stroke="#3f4f72" stroke-width=".9"/><path d="M1.800 3.400L6.600.7" fill="none" stroke="#7f8ca8" stroke-width=".8"/></g></svg>
<svg style="left:310px;top:88px" width="16" height="16" viewBox="0 0 16 16"><path d="M4.500 5h-2v4.500" fill="none" stroke="#1f478f" stroke-width="1.300"/><rect x="4.500" y="1.700" width="6" height="5.200" fill="#e4f9fd" stroke="#4a5f8f" stroke-width="1"/><rect x="4" y="1.200" width="7" height="2" fill="#4f7fd6"/><rect x="0.500" y="9.800" width="4.800" height="5.500" fill="#e4f9fd" stroke="#4a5f8f" stroke-width="1"/><rect x="0" y="9.300" width="5.800" height="2" fill="#4f7fd6"/><rect x="8.700" y="9.800" width="4.800" height="5.500" fill="#e4f9fd" stroke="#4a5f8f" stroke-width="1"/><rect x="8.200" y="9.300" width="5.800" height="2" fill="#4f7fd6"/><g transform="translate(8.200,0.3)"><path d="M1.800 3.400L.4 5.500 4 8.200 6.600 6.400z" fill="#ffe03a"/><path d="M1.200 4.600l4 2.800" stroke="#fff8c0" stroke-width=".7" stroke-dasharray="1 1"/><path d="M7.600 .8q.7.400.5 1.100L6.800 6.400 1.800 3.400 6.600.7q.5-.2 1 .1z" fill="#b9c6d8"/><path d="M4.300 2.800l2.800 2.400" stroke="#eef4fa" stroke-width="1.100"/><path d="M1.800 3.400l5 3L8.100 1.900" fill="none" stroke="#3f4f72" stroke-width=".9"/><path d="M1.800 3.400L6.600.7" fill="none" stroke="#7f8ca8" stroke-width=".8"/></g></svg>
<svg style="left:333px;top:88px" width="16" height="16" viewBox="0 0 16 16"><path d="M6.800 6.800v6.800l1.300 1.400 1-.9V6.800z" fill="#fbeaa0" stroke="#3a3a3a" stroke-width=".8"/><path d="M9.100 8.200l1.500.8-1.500.8 1.500.8-1.500.8 1.500.8-1.500.8" fill="#fbeaa0" stroke="#3a3a3a" stroke-width=".7"/><path d="M5.800 1.300h4.500l1.900 1.900v1.600l-2 2H6l-2-2V3.200z" fill="#f4b860" stroke="#3a3a3a" stroke-width=".9"/><path d="M6.300 2.200h3l1 1" fill="none" stroke="#fde2b0" stroke-width=".8"/><circle cx="8" cy="4" r="1.100" fill="#2a2a2a"/><circle cx="7.700" cy="3.700" r=".5" fill="#fff"/></svg>
<div class="a" style="left:356px;top:88px;width:1px;height:17px;background:#a7a4a7;"></div>
<svg style="left:364px;top:88px" width="16" height="16" viewBox="0 0 16 16"><path d="M5.500 .8L2 4.500l3.500 3.700L9 4.500z" fill="#23b934"/><rect x="6.500" y="3.500" width="4.500" height="6" fill="#4cb0f0"/><path d="M6.500 3.500h4.500" stroke="#bfe4fb"/><circle cx="5" cy="7" r="2.400" fill="#e43bd2"/><circle cx="4.300" cy="6.300" r=".9" fill="#fbd3f6"/><path d="M1.500 9.300L6 14.200 15.300 4.200" fill="none" stroke="#149a22" stroke-width="2.600"/><path d="M1.800 8.900L6 13.300 14.900 3.900" fill="none" stroke="#3fd84c" stroke-width="1"/></svg>
<div class="a" style="left:387px;top:88px;width:1px;height:17px;background:#a7a4a7;"></div>
<svg style="left:396px;top:88px" width="16" height="16" viewBox="0 0 16 16"><path d="M1.500 3.500q0-1.800 3.500-1.800t3.500 1.800v6.500q0 1.800-3.500 1.800T1.500 10z" fill="url(#gGrey)" stroke="#8a8a92" stroke-width=".7"/><ellipse cx="5" cy="3.500" rx="3.500" ry="1.500" fill="#f2f2f4" stroke="#9a9aa2" stroke-width=".6"/><rect x="7.500" y=".8" width="6" height="9.500" fill="#e9f0fb" stroke="#3b76cf" stroke-width=".9"/><rect x="8.300" y="1.500" width="4.500" height="3.600" fill="#c8681a"/><path d="M9 4.500l3-2.500" stroke="#f7d9a8" stroke-width="1.200"/><rect x="8.300" y="6" width="4.500" height="3.600" fill="#1fa32e"/><path d="M8.500 9l3-3h-3z" fill="#e8dd6a"/><rect x="1" y="11" width="10.500" height="4" rx="1" fill="#dff0fd" stroke="#1f7fe0" stroke-width="1.200"/><path d="M3 14.500l2.500-2.500 1.500 2 1.500-1" fill="none" stroke="#1f7fe0" stroke-width="1"/></svg>
<svg style="left:418px;top:88px" width="16" height="16" viewBox="0 0 16 16"><g transform="translate(2.200,0)"><path d="M1.500 3.500q0-1.800 3.500-1.800t3.500 1.800v6.500q0 1.800-3.500 1.800T1.500 10z" fill="url(#gGrey)" stroke="#8a8a92" stroke-width=".7"/><ellipse cx="5" cy="3.500" rx="3.500" ry="1.500" fill="#f2f2f4" stroke="#9a9aa2" stroke-width=".6"/><rect x="7.500" y=".8" width="6" height="9.500" fill="#e9f0fb" stroke="#3b76cf" stroke-width=".9"/><rect x="8.300" y="1.500" width="4.500" height="3.600" fill="#c8681a"/><path d="M9 4.500l3-2.500" stroke="#f7d9a8" stroke-width="1.200"/><rect x="8.300" y="6" width="4.500" height="3.600" fill="#1fa32e"/><path d="M8.500 9l3-3h-3z" fill="#e8dd6a"/></g><rect x="5" y="12" width="8" height="3.300" rx="1" fill="#dff0fd" stroke="#7ab6ee" stroke-width=".8"/><circle cx="8" cy="9.500" r="3.300" fill="#e8f7e9" fill-opacity=".7" stroke="#111" stroke-width="1.400"/><rect x="6.800" y="8" width="2.400" height="3" fill="#1fa32e"/><path d="M5.500 12l-3.700 3" stroke="#d98a1c" stroke-width="2.200" stroke-linecap="round"/><path d="M4.500 12.600l-2.400 2" stroke="#ffd47a" stroke-width=".8"/></svg>
<svg style="left:0;top:110px" width="90" height="26"><g fill="none" stroke="#bdbac8" stroke-width="2.200"><path d="M20 7l11 11M31 7L20 18"/><path d="M42 12.500l5.500 5L55.500 7.500" stroke-width="2.400"/></g></svg>
<div class="t" style="left:68.00px;top:115.00px;font-size:12.5px;transform:scale(1.0000,1);font-family:'Liberation Serif',serif;font-weight:bold;"><i>f</i></div>
<div class="t" style="left:72.00px;top:120.50px;font-size:8px;transform:scale(1.0000,1);font-family:'Liberation Sans',sans-serif;font-weight:bold;"><i>x</i></div>
<div class="a" style="left:9px;top:145px;width:196px;height:1px;background:#fff;"></div>
<div class="a" style="left:9px;top:146px;width:196px;height:1px;background:#9a979a;"></div>
<div class="a" style="left:204px;top:145px;width:1px;height:2px;background:#9a979a;"></div>
<div class="a" style="left:9px;top:149px;width:196px;height:1px;background:#fff;"></div>
<div class="a" style="left:9px;top:150px;width:196px;height:1px;background:#9a979a;"></div>
<div class="a" style="left:204px;top:149px;width:1px;height:2px;background:#9a979a;"></div>
<div class="btn" style="left:208px;top:142px;width:12px;height:12px;"></div>
<svg style="left:208px;top:142px" width="12" height="12"><path d="M3.500 3.500l4 4M7.500 3.500l-4 4" stroke="#333" stroke-width="1" fill="none"/></svg>
<div class="sunk" style="left:8px;top:156px;width:210px;height:572px;background:#fff"></div>
<div class="a" style="left:16px;top:161px;width:9px;height:9px;border:1px solid #8e8b8e;background:#fff"></div>
<svg style="left:16px;top:161px" width="9" height="9"><path d="M2 4.500h5M4.500 2v5" stroke="#000" stroke-width="1"/></svg>
<svg style="left:31px;top:159px" width="16" height="13" viewBox="0 0 16 13"><defs><linearGradient id="fg0" x1="0" y1="0" x2="1" y2="0"><stop offset="0" stop-color="#ffc90f"/><stop offset=".4" stop-color="#ffd835"/><stop offset=".7" stop-color="#fff0a0"/><stop offset="1" stop-color="#ffd93a"/></linearGradient></defs><path d="M.8 3.200V1.600q0-.6.600-.6h4.600l1 2.200z" fill="#fdf8dc" stroke="#dcc88a" stroke-width=".7"/><rect x=".8" y="3.200" width="13.400" height="8.600" fill="url(#fg0)"/><path d="M14.300 3.200v8.700H.6" fill="none" stroke="#d9912c" stroke-width=".9"/><path d="M.8 1.500V12" stroke="#e8a03c" stroke-width=".9"/><path d="M.8 3.200h13.500" stroke="#e8c060" stroke-width=".7"/></svg>
<div class="a" style="left:49px;top:158px;width:57px;height:17px;border:1px solid #3a8ee6;background:#fff"></div>
<div class="t" style="left:50.00px;top:160.50px;font-size:11px;transform:scale(0.9433,1);">Time period</div>
<div class="a" style="left:16px;top:178px;width:9px;height:9px;border:1px solid #8e8b8e;background:#fff"></div>
<svg style="left:16px;top:178px" width="9" height="9"><path d="M2 4.500h5M4.500 2v5" stroke="#000" stroke-width="1"/></svg>
<svg style="left:31px;top:176px" width="16" height="13" viewBox="0 0 16 13"><defs><linearGradient id="fg1" x1="0" y1="0" x2="1" y2="0"><stop offset="0" stop-color="#ffc90f"/><stop offset=".4" stop-color="#ffd835"/><stop offset=".7" stop-color="#fff0a0"/><stop offset="1" stop-color="#ffd93a"/></linearGradient></defs><path d="M.8 3.200V1.600q0-.6.600-.6h4.600l1 2.200z" fill="#fdf8dc" stroke="#dcc88a" stroke-width=".7"/><rect x=".8" y="3.200" width="13.400" height="8.600" fill="url(#fg1)"/><path d="M14.300 3.200v8.700H.6" fill="none" stroke="#d9912c" stroke-width=".9"/><path d="M.8 1.500V12" stroke="#e8a03c" stroke-width=".9"/><path d="M.8 3.200h13.500" stroke="#e8c060" stroke-width=".7"/></svg>
<div class="t" style="left:50.00px;top:177.50px;font-size:11px;transform:scale(0.9583,1);">Store</div>
<div class="a" style="left:16px;top:195px;width:9px;height:9px;border:1px solid #8e8b8e;background:#fff"></div>
<svg style="left:16px;top:195px" width="9" height="9"><path d="M2 4.500h5M4.500 2v5" stroke="#000" stroke-width="1"/></svg>
<svg style="left:31px;top:193px" width="16" height="13" viewBox="0 0 16 13"><defs><linearGradient id="fg2" x1="0" y1="0" x2="1" y2="0"><stop offset="0" stop-color="#ffc90f"/><stop offset=".4" stop-color="#ffd835"/><stop offset=".7" stop-color="#fff0a0"/><stop offset="1" stop-color="#ffd93a"/></linearGradient></defs><path d="M.8 3.200V1.600q0-.6.600-.6h4.600l1 2.200z" fill="#fdf8dc" stroke="#dcc88a" stroke-width=".7"/><rect x=".8" y="3.200" width="13.400" height="8.600" fill="url(#fg2)"/><path d="M14.300 3.200v8.700H.6" fill="none" stroke="#d9912c" stroke-width=".9"/><path d="M.8 1.500V12" stroke="#e8a03c" stroke-width=".9"/><path d="M.8 3.200h13.500" stroke="#e8c060" stroke-width=".7"/></svg>
<div class="t" style="left:50.00px;top:194.50px;font-size:11px;transform:scale(0.9678,1);">Product</div>
<div class="a" style="left:16px;top:212px;width:9px;height:9px;border:1px solid #8e8b8e;background:#fff"></div>
<svg style="left:16px;top:212px" width="9" height="9"><path d="M2 4.500h5M4.500 2v5" stroke="#000" stroke-width="1"/></svg>
<svg style="left:31px;top:210px" width="16" height="13" viewBox="0 0 16 13"><defs><linearGradient id="fg3" x1="0" y1="0" x2="1" y2="0"><stop offset="0" stop-color="#ffc90f"/><stop offset=".4" stop-color="#ffd835"/><stop offset=".7" stop-color="#fff0a0"/><stop offset="1" stop-color="#ffd93a"/></linearGradient></defs><path d="M.8 3.200V1.600q0-.6.600-.6h4.600l1 2.200z" fill="#fdf8dc" stroke="#dcc88a" stroke-width=".7"/><rect x=".8" y="3.200" width="13.400" height="8.600" fill="url(#fg3)"/><path d="M14.300 3.200v8.700H.6" fill="none" stroke="#d9912c" stroke-width=".9"/><path d="M.8 1.500V12" stroke="#e8a03c" stroke-width=".9"/><path d="M.8 3.200h13.500" stroke="#e8c060" stroke-width=".7"/></svg>
<div class="t" style="left:50.00px;top:211.50px;font-size:11px;transform:scale(0.9418,1);">Promotions</div>
<div class="a" style="left:16px;top:229px;width:9px;height:9px;border:1px solid #8e8b8e;background:#fff"></div>
<svg style="left:16px;top:229px" width="9" height="9"><path d="M2 4.500h5M4.500 2v5" stroke="#000" stroke-width="1"/></svg>
<svg style="left:31px;top:227px" width="16" height="13" viewBox="0 0 16 13"><defs><linearGradient id="fg4" x1="0" y1="0" x2="1" y2="0"><stop offset="0" stop-color="#ffc90f"/><stop offset=".4" stop-color="#ffd835"/><stop offset=".7" stop-color="#fff0a0"/><stop offset="1" stop-color="#ffd93a"/></linearGradient></defs><path d="M.8 3.200V1.600q0-.6.600-.6h4.600l1 2.200z" fill="#fdf8dc" stroke="#dcc88a" stroke-width=".7"/><rect x=".8" y="3.200" width="13.400" height="8.600" fill="url(#fg4)"/><path d="M14.300 3.200v8.700H.6" fill="none" stroke="#d9912c" stroke-width=".9"/><path d="M.8 1.500V12" stroke="#e8a03c" stroke-width=".9"/><path d="M.8 3.200h13.500" stroke="#e8c060" stroke-width=".7"/></svg>
<div class="t" style="left:50.00px;top:228.50px;font-size:11px;transform:scale(0.9379,1);">Measures</div>
<svg style="left:0;top:0" width="40" height="250"><rect x="26" y="165" width="1" height="1" fill="#8a878a"/><rect x="28" y="165" width="1" height="1" fill="#8a878a"/><rect x="20" y="171" width="1" height="1" fill="#8a878a"/><rect x="20" y="173" width="1" height="1" fill="#8a878a"/><rect x="20" y="175" width="1" height="1" fill="#8a878a"/><rect x="20" y="177" width="1" height="1" fill="#8a878a"/><rect x="26" y="182" width="1" height="1" fill="#8a878a"/><rect x="28" y="182" width="1" height="1" fill="#8a878a"/><rect x="20" y="188" width="1" height="1" fill="#8a878a"/><rect x="20" y="190" width="1" height="1" fill="#8a878a"/><rect x="20" y="192" width="1" height="1" fill="#8a878a"/><rect x="20" y="194" width="1" height="1" fill="#8a878a"/><rect x="26" y="199" width="1" height="1" fill="#8a878a"/><rect x="28" y="199" width="1" height="1" fill="#8a878a"/><rect x="20" y="205" width="1" height="1" fill="#8a878a"/><rect x="20" y="207" width="1" height="1" fill="#8a878a"/><rect x="20" y="209" width="1" height="1" fill="#8a878a"/><rect x="20" y="211" width="1" height="1" fill="#8a878a"/><rect x="26" y="216" width="1" height="1" fill="#8a878a"/><rect x="28" y="216" width="1" height="1" fill="#8a878a"/><rect x="20" y="222" width="1" height="1" fill="#8a878a"/><rect x="20" y="224" width="1" height="1" fill="#8a878a"/><rect x="20" y="226" width="1" height="1" fill="#8a878a"/><rect x="20" y="228" width="1" height="1" fill="#8a878a"/><rect x="26" y="233" width="1" height="1" fill="#8a878a"/><rect x="28" y="233" width="1" height="1" fill="#8a878a"/></svg>
<svg style="left:6px;top:735px" width="12" height="12"><circle cx="6" cy="6" r="5.500" fill="#fff"/><path d="M9.900 2.100A5.500 5.500 0 0 0 2.100 9.900" fill="none" stroke="#6b686b" stroke-width="1.200"/><path d="M2.100 9.900A5.500 5.500 0 0 0 9.900 2.100" fill="none" stroke="#fff" stroke-width="1"/><circle cx="6" cy="6" r="2" fill="#000"/></svg>
<svg style="left:57px;top:735px" width="12" height="12"><circle cx="6" cy="6" r="5.500" fill="#fff"/><path d="M9.900 2.100A5.500 5.500 0 0 0 2.100 9.900" fill="none" stroke="#6b686b" stroke-width="1.200"/><path d="M2.100 9.900A5.500 5.500 0 0 0 9.900 2.100" fill="none" stroke="#fff" stroke-width="1"/></svg>
<svg style="left:23px;top:733px" width="17" height="16" viewBox="0 0 17 16"><path d="M7 1L1 7.500h4.500V9h3V7.500H13z" fill="#25c53a"/><path d="M7 1L13 7.500H8.500V9H7z" fill="#138a28"/><path d="M8 5h8v9H8z" fill="#39a7ea"/><path d="M8 5l2-1.500h6.500L16 5z" fill="#9fdcfb"/><path d="M9 6h5v6z" fill="#8fd6fb"/><path d="M16 5l.6-1.400V12L16 14z" fill="#1f6fc2"/><circle cx="6" cy="11.500" r="4" fill="#d23fd0"/><path d="M2.300 13a4 4 0 0 0 7.400 0z" fill="#8d1f97"/><rect x="3.500" y="9" width="3" height="3" fill="#f6d9f6"/></svg>
<svg style="left:75px;top:735.5px" width="13" height="12" viewBox="0 0 13 12"><defs><linearGradient id="fua" x1="0" x2="1"><stop offset="0" stop-color="#ffd84a"/><stop offset=".3" stop-color="#fff1b0"/><stop offset=".6" stop-color="#f9b51c"/><stop offset="1" stop-color="#b5650a"/></linearGradient></defs><path d="M0 .5h13L8 6v5.500L5 10V6z" fill="url(#fua)"/><path d="M8 6v5.500L5 10" fill="none" stroke="#b9770e" stroke-width=".8"/><path d="M0 .5h13" stroke="#f0b73a"/></svg>
<svg style="left:104px;top:732px" width="14" height="13" viewBox="0 0 14 13"><path d="M3 0h3v4h2V0h3v3l2.500 5v5H8V7H6v6H.5V8L3 3z" fill="#3f63ae"/><path d="M2 8h2.500v4.500H2zM9.500 8H12v4.500H9.500z" fill="#9fb6e2"/><path d="M4 1h1v3H4zM9 1h1v3H9z" fill="#a9bfe8"/></svg>
<div class="sunk" style="left:132px;top:732px;width:98px;height:21px;background:#fff"></div>
<div class="a" style="left:0px;top:754px;width:238px;height:1px;background:#a5a2a5;"></div>
<svg style="left:0;top:0" width="1424" height="768" viewBox="0 0 1424 768"><g fill="none" stroke="#000" stroke-width="1"><path d="M396 173.500H408L755 389.500 M755 389.500H767 M760 389.500L767 385.500 M760 389.500L767 393.500 M396 353.500H408L431 233.500 M431 233.500H443 M436 233.500L443 229.500 M436 233.500L443 237.500 M408 353.500H755 M755 353.500H767 M760 353.500L767 349.500 M760 353.500L767 357.500 M408 353.500L563 473.500 M563 473.500H575 M568 473.500L575 469.500 M568 473.500L575 477.500 M684 233.500H696L755 365.500 M755 365.500H767 M760 365.500L767 361.500 M760 365.500L767 369.500 M684 245.500H696L755 353.500 M396 485.500H408L755 377.500 M755 377.500H767 M760 377.500L767 373.500 M760 377.500L767 381.500 M408 485.500H563 M563 485.500H575 M568 485.500L575 481.500 M568 485.500L575 489.500 M504 521.500H516L563 509.500 M563 509.500H575 M568 509.500L575 505.500 M568 509.500L575 513.500"/><path d="M708 473.500H720L755 353.500" stroke-dasharray="3 3"/></g><g fill="#000"><circle cx="760.500" cy="389.500" r="1.400"/><circle cx="436.500" cy="233.500" r="1.400"/><circle cx="760.500" cy="353.500" r="1.400"/><circle cx="568.500" cy="473.500" r="1.400"/><circle cx="760.500" cy="365.500" r="1.400"/><circle cx="760.500" cy="377.500" r="1.400"/><circle cx="568.500" cy="485.500" r="1.400"/><circle cx="568.500" cy="509.500" r="1.400"/></g></svg>
<div class="tb" style="left:275px;top:149px;width:121px;height:163px;"></div>
<div class="ti" style="left:278px;top:166px;width:115px;height:143px;"></div>
<div class="t" style="left:305.43px;top:153.00px;font-size:19.6px;transform:scale(0.4718,0.5);">Outlet_Lookup</div>
<div class="t" style="left:279.00px;top:169.00px;font-size:19.6px;transform:scale(0.4664,0.5);">Shop_id</div>
<div class="t" style="left:279.00px;top:181.00px;font-size:19.6px;transform:scale(0.4628,0.5);">Shop_name</div>
<div class="t" style="left:279.00px;top:193.00px;font-size:19.6px;transform:scale(0.4603,0.5);">Address_1</div>
<div class="t" style="left:279.00px;top:205.00px;font-size:19.6px;transform:scale(0.4672,0.5);">Manager</div>
<div class="t" style="left:279.00px;top:217.00px;font-size:19.6px;transform:scale(0.4704,0.5);">Date_open</div>
<div class="t" style="left:279.00px;top:229.00px;font-size:19.6px;transform:scale(0.4671,0.5);">Long_opening_hours_flag</div>
<div class="t" style="left:279.00px;top:241.00px;font-size:19.6px;transform:scale(0.4773,0.5);">Owned_outright_flag</div>
<div class="t" style="left:279.00px;top:253.00px;font-size:19.6px;transform:scale(0.4578,0.5);">Floor_space</div>
<div class="t" style="left:279.00px;top:265.00px;font-size:19.6px;transform:scale(0.4657,0.5);">Zip_code</div>
<div class="t" style="left:279.00px;top:277.00px;font-size:19.6px;transform:scale(0.4826,0.5);">City</div>
<div class="t" style="left:279.00px;top:289.00px;font-size:19.6px;transform:scale(0.4797,0.5);">State</div>
<div class="tb" style="left:443px;top:197px;width:121px;height:103px;"></div>
<div class="ti" style="left:446px;top:214px;width:115px;height:83px;"></div>
<div class="t" style="left:456.13px;top:201.00px;font-size:19.6px;transform:scale(0.4651,0.5);">Article_Lookup_Criteria</div>
<div class="t" style="left:447.00px;top:217.00px;font-size:19.6px;transform:scale(0.4713,0.5);">Article_lookup_criteria_id</div>
<div class="t" style="left:447.00px;top:229.00px;font-size:19.6px;transform:scale(0.4767,0.5);">Article_id</div>
<div class="t" style="left:447.00px;top:241.00px;font-size:19.6px;transform:scale(0.4768,0.5);">Criteria</div>
<div class="t" style="left:447.00px;top:253.00px;font-size:19.6px;transform:scale(0.4747,0.5);">Criteria_type</div>
<div class="t" style="left:447.00px;top:265.00px;font-size:19.6px;transform:scale(0.4696,0.5);">Criteria_type_label</div>
<div class="t" style="left:447.00px;top:277.00px;font-size:19.6px;transform:scale(0.4687,0.5);">Criteria_label</div>
<div class="tb" style="left:575px;top:197px;width:109px;height:139px;"></div>
<div class="ti" style="left:578px;top:214px;width:103px;height:119px;"></div>
<div class="t" style="left:586.22px;top:201.00px;font-size:19.6px;transform:scale(0.4620,0.5);">Article_Color_Lookup</div>
<div class="t" style="left:579.00px;top:217.00px;font-size:19.6px;transform:scale(0.4689,0.5);">Article_color_lookup_id</div>
<div class="t" style="left:579.00px;top:229.00px;font-size:19.6px;transform:scale(0.4767,0.5);">Article_id</div>
<div class="t" style="left:579.00px;top:241.00px;font-size:19.6px;transform:scale(0.4604,0.5);">Color_code</div>
<div class="t" style="left:579.00px;top:253.00px;font-size:19.6px;transform:scale(0.4704,0.5);">Article_label</div>
<div class="t" style="left:579.00px;top:265.00px;font-size:19.6px;transform:scale(0.4634,0.5);">Color_label</div>
<div class="t" style="left:579.00px;top:277.00px;font-size:19.6px;transform:scale(0.4686,0.5);">Category</div>
<div class="t" style="left:579.00px;top:289.00px;font-size:19.6px;transform:scale(0.4594,0.5);">Sale_price</div>
<div class="t" style="left:579.00px;top:301.00px;font-size:19.6px;transform:scale(0.4652,0.5);">Family_name</div>
<div class="t" style="left:579.00px;top:313.00px;font-size:19.6px;transform:scale(0.4623,0.5);">Family_code</div>
<div class="tb" style="left:323px;top:329px;width:73px;height:103px;"></div>
<div class="ti" style="left:326px;top:346px;width:67px;height:83px;"></div>
<div class="t" style="left:330.44px;top:333.00px;font-size:19.6px;transform:scale(0.4722,0.5);">Article_lookup</div>
<div class="t" style="left:327.00px;top:349.00px;font-size:19.6px;transform:scale(0.4767,0.5);">Article_id</div>
<div class="t" style="left:327.00px;top:361.00px;font-size:19.6px;transform:scale(0.4704,0.5);">Article_label</div>
<div class="t" style="left:327.00px;top:373.00px;font-size:19.6px;transform:scale(0.4686,0.5);">Category</div>
<div class="t" style="left:327.00px;top:385.00px;font-size:19.6px;transform:scale(0.4594,0.5);">Sale_price</div>
<div class="t" style="left:327.00px;top:397.00px;font-size:19.6px;transform:scale(0.4652,0.5);">Family_name</div>
<div class="t" style="left:327.00px;top:409.00px;font-size:19.6px;transform:scale(0.4623,0.5);">Family_code</div>
<div class="tb" style="left:767px;top:317px;width:73px;height:127px;"></div>
<div class="ti" style="left:770px;top:334px;width:67px;height:107px;"></div>
<div class="t" style="left:780.73px;top:321.00px;font-size:19.6px;transform:scale(0.4645,0.5);">Shop_facts</div>
<div class="t" style="left:771.00px;top:337.00px;font-size:19.6px;transform:scale(0.4651,0.5);">Shop_facts_id</div>
<div class="t" style="left:771.00px;top:349.00px;font-size:19.6px;transform:scale(0.4767,0.5);">Article_id</div>
<div class="t" style="left:771.00px;top:361.00px;font-size:19.6px;transform:scale(0.4604,0.5);">Color_code</div>
<div class="t" style="left:771.00px;top:373.00px;font-size:19.6px;transform:scale(0.4716,0.5);">Week_id</div>
<div class="t" style="left:771.00px;top:385.00px;font-size:19.6px;transform:scale(0.4664,0.5);">Shop_id</div>
<div class="t" style="left:771.00px;top:397.00px;font-size:19.6px;transform:scale(0.4766,0.5);">Margin</div>
<div class="t" style="left:771.00px;top:409.00px;font-size:19.6px;transform:scale(0.4712,0.5);">Amount_sold</div>
<div class="t" style="left:771.00px;top:421.00px;font-size:19.6px;transform:scale(0.4738,0.5);">Quantity_sold</div>
<div class="tb" style="left:299px;top:461px;width:97px;height:139px;"></div>
<div class="ti" style="left:302px;top:478px;width:91px;height:119px;"></div>
<div class="t" style="left:301.91px;top:465.00px;font-size:19.6px;transform:scale(0.4625,0.5);">Calendar_year_lookup</div>
<div class="t" style="left:303.00px;top:481.00px;font-size:19.6px;transform:scale(0.4716,0.5);">Week_id</div>
<div class="t" style="left:303.00px;top:493.00px;font-size:19.6px;transform:scale(0.4744,0.5);">Week_In_Year</div>
<div class="t" style="left:303.00px;top:505.00px;font-size:19.6px;transform:scale(0.4903,0.5);">Yr</div>
<div class="t" style="left:303.00px;top:517.00px;font-size:19.6px;transform:scale(0.4519,0.5);">Fiscal_Period</div>
<div class="t" style="left:303.00px;top:529.00px;font-size:19.6px;transform:scale(0.4679,0.5);">Year_Week</div>
<div class="t" style="left:303.00px;top:541.00px;font-size:19.6px;transform:scale(0.5107,0.5);">Qtr</div>
<div class="t" style="left:303.00px;top:553.00px;font-size:19.6px;transform:scale(0.4675,0.5);">Month_Name</div>
<div class="t" style="left:303.00px;top:565.00px;font-size:19.6px;transform:scale(0.4986,0.5);">Mth</div>
<div class="t" style="left:303.00px;top:577.00px;font-size:19.6px;transform:scale(0.4613,0.5);">Holiday_Flag</div>
<div class="tb" style="left:419px;top:497px;width:85px;height:103px;"></div>
<div class="ti" style="left:422px;top:514px;width:79px;height:83px;"></div>
<div class="t" style="left:424.34px;top:501.00px;font-size:19.6px;transform:scale(0.4771,0.5);">promotion_lookup</div>
<div class="t" style="left:423.00px;top:517.00px;font-size:19.6px;transform:scale(0.4730,0.5);">Promotion_id</div>
<div class="t" style="left:423.00px;top:529.00px;font-size:19.6px;transform:scale(0.4732,0.5);">Promotion_flag</div>
<div class="t" style="left:423.00px;top:541.00px;font-size:19.6px;transform:scale(0.4790,0.5);">Print_flag</div>
<div class="t" style="left:423.00px;top:553.00px;font-size:19.6px;transform:scale(0.4664,0.5);">Radio_flag</div>
<div class="t" style="left:423.00px;top:565.00px;font-size:19.6px;transform:scale(0.4755,0.5);">Television_flag</div>
<div class="t" style="left:423.00px;top:577.00px;font-size:19.6px;transform:scale(0.4740,0.5);">Direct_mail_flag</div>
<div class="tb" style="left:575px;top:437px;width:133px;height:103px;"></div>
<div class="ti" style="left:578px;top:454px;width:127px;height:83px;"></div>
<div class="t" style="left:590.21px;top:441.00px;font-size:19.6px;transform:scale(0.4756,0.5);">product_promotion_facts</div>
<div class="t" style="left:579.00px;top:457.00px;font-size:19.6px;transform:scale(0.4704,0.5);">Product_promotion_facts_id</div>
<div class="t" style="left:579.00px;top:469.00px;font-size:19.6px;transform:scale(0.4767,0.5);">Article_id</div>
<div class="t" style="left:579.00px;top:481.00px;font-size:19.6px;transform:scale(0.4716,0.5);">Week_id</div>
<div class="t" style="left:579.00px;top:493.00px;font-size:19.6px;transform:scale(0.4838,0.5);">Duration</div>
<div class="t" style="left:579.00px;top:505.00px;font-size:19.6px;transform:scale(0.4730,0.5);">Promotion_id</div>
<div class="t" style="left:579.00px;top:517.00px;font-size:19.6px;transform:scale(0.4691,0.5);">Promotion_cost</div>
<div class="tb" style="left:659px;top:545px;width:121px;height:115px;"></div>
<div class="ti" style="left:662px;top:562px;width:115px;height:95px;"></div>
<div class="t" style="left:665.87px;top:549.00px;font-size:19.6px;transform:scale(0.4690,0.5);">Agg_yr_qt_rn_st_ln_ca_sr</div>
<div class="t" style="left:663.00px;top:565.00px;font-size:19.6px;transform:scale(0.4765,0.5);">agg2_id</div>
<div class="t" style="left:663.00px;top:577.00px;font-size:19.6px;transform:scale(0.4903,0.5);">Yr</div>
<div class="t" style="left:663.00px;top:589.00px;font-size:19.6px;transform:scale(0.5107,0.5);">Qtr</div>
<div class="t" style="left:663.00px;top:601.00px;font-size:19.6px;transform:scale(0.4797,0.5);">State</div>
<div class="t" style="left:663.00px;top:613.00px;font-size:19.6px;transform:scale(0.4769,0.5);">Line</div>
<div class="t" style="left:663.00px;top:625.00px;font-size:19.6px;transform:scale(0.4686,0.5);">Category</div>
<div class="t" style="left:663.00px;top:637.00px;font-size:19.6px;transform:scale(0.4571,0.5);">Sales_revenue</div>
<div class="tb" style="left:791px;top:497px;width:193px;height:163px;"></div>
<div class="ti" style="left:794px;top:514px;width:187px;height:143px;"></div>
<div class="t" style="left:798.66px;top:501.00px;font-size:19.6px;transform:scale(0.4702,0.5);">Agg_yr_qt_mt_mn_wk_rg_cy_sn_sr_qt_ma</div>
<div class="t" style="left:795.00px;top:517.00px;font-size:19.6px;transform:scale(0.4765,0.5);">agg1_id</div>
<div class="t" style="left:795.00px;top:529.00px;font-size:19.6px;transform:scale(0.4903,0.5);">Yr</div>
<div class="t" style="left:795.00px;top:541.00px;font-size:19.6px;transform:scale(0.5107,0.5);">Qtr</div>
<div class="t" style="left:795.00px;top:553.00px;font-size:19.6px;transform:scale(0.4986,0.5);">Mth</div>
<div class="t" style="left:795.00px;top:565.00px;font-size:19.6px;transform:scale(0.4720,0.5);">Month_name</div>
<div class="t" style="left:795.00px;top:577.00px;font-size:19.6px;transform:scale(0.4903,0.5);">Wk</div>
<div class="t" style="left:795.00px;top:589.00px;font-size:19.6px;transform:scale(0.4826,0.5);">City</div>
<div class="t" style="left:795.00px;top:601.00px;font-size:19.6px;transform:scale(0.4676,0.5);">Store_name</div>
<div class="t" style="left:795.00px;top:613.00px;font-size:19.6px;transform:scale(0.4571,0.5);">Sales_revenue</div>
<div class="t" style="left:795.00px;top:625.00px;font-size:19.6px;transform:scale(0.4738,0.5);">Quantity_sold</div>
<div class="t" style="left:795.00px;top:637.00px;font-size:19.6px;transform:scale(0.4766,0.5);">Margin</div>
</body></html>
